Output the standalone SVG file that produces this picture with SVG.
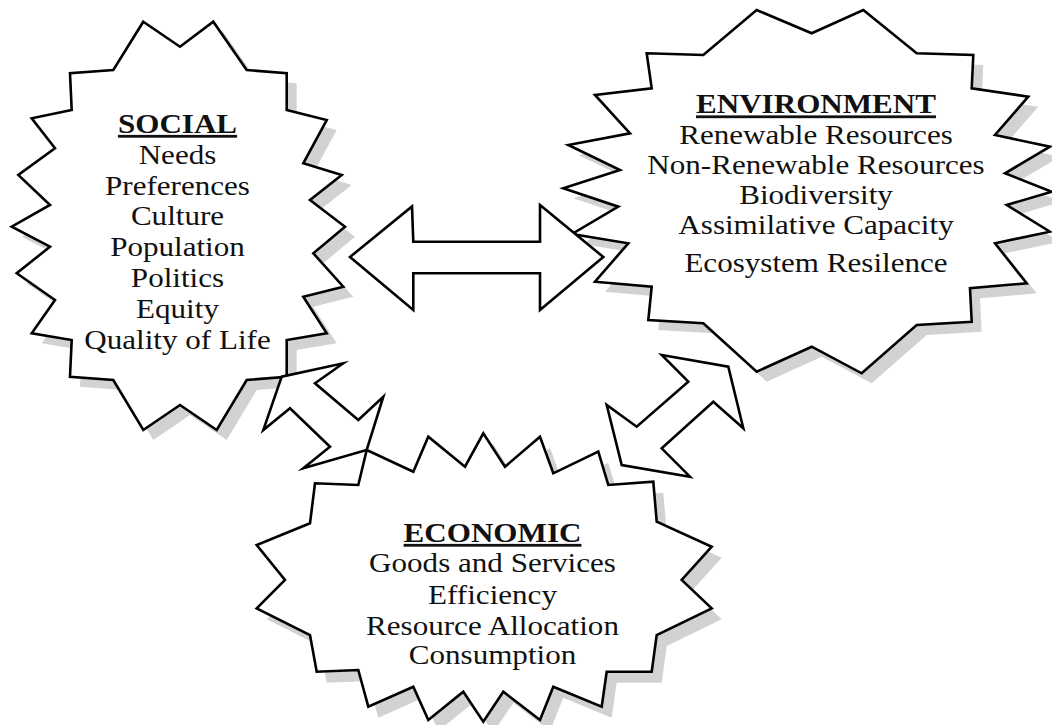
<svg xmlns="http://www.w3.org/2000/svg" xmlns:xlink="http://www.w3.org/1999/xlink" width="1052" height="725" viewBox="0 0 1052 725">
<style>
.shape{fill:#fff;stroke:#000;stroke-width:2.6;stroke-linejoin:miter;stroke-miterlimit:10}
.shadow{fill:#d2d2d2;stroke:none}
.t{font-family:"Liberation Serif","Times New Roman",serif;font-size:28px;fill:#111;text-anchor:middle}
.h{font-weight:bold;text-decoration:underline}
</style>
<defs>
<polygon id="socialShape" points="143.3,21.7 180,46.7 213.3,21.7 246.7,70 286.7,73.3 286.7,110 326.7,120 303.3,163.3 341.7,175 310,200 345,226.7 313.3,253.3 343.3,286.7 303.3,296.7 326.7,333.3 286.7,340 286.7,376.7 246.7,380 216.7,430 180,405 143.3,430 113.3,380 70,376.7 71.7,340 31.7,333.3 55,300 16.7,273.3 50,246.7 11.7,226.7 50,205 18.3,175 55,148.3 31.7,118.3 71.7,110 70,73.3 113.3,70"/>
<polygon id="envShape" points="646.7,53.3 703.3,55 756.7,10 811.7,33.3 863.3,10 916.7,53.3 973.3,55 971.7,88.3 1028.3,96.7 995,135 1050,146.7 1005,173.3 1051.7,191.7 1006.7,205 1050,231.7 995,243.3 1026.7,283.3 970,288.3 971.7,321.7 916.7,325 861.7,373.3 811.7,346.7 756.7,371.7 703.3,323.3 648.3,320 651.7,286.7 595,281.7 628.3,243.3 572,234 618.3,206.7 563.3,188.3 620,170 568.3,145 630,133.3 595,95 651.7,88.3"/>
<polygon id="econShape" points="366.7,450 413.3,471.7 428.3,436.7 465,466.7 483.3,433.3 505,466.7 540,436.7 553.3,473.3 598.3,451.7 608.3,485 653.3,481.7 656.7,521.7 711.7,546.7 681.7,580 711.7,608.3 656.7,635 651.7,671.7 606.7,671.7 601.7,706.7 553.3,686.7 540,720 503.3,691.7 483.3,721.7 463.3,691.7 428.3,720 413.3,686.7 368.3,706.7 358.3,670 316.7,671.7 310,635 256.7,608.3 285,580 256.7,545 310,523.3 315,483.3 358.3,485"/>
</defs>

<g id="social">
<use xlink:href="#socialShape" href="#socialShape" class="shadow" transform="translate(10 10)"/>
<use xlink:href="#socialShape" href="#socialShape" class="shape"/>
<g transform="translate(177.5 0) scale(1.11 1)">
<text class="t h" x="0" y="133">SOCIAL</text>
<text class="t" x="0" y="164">Needs</text>
<text class="t" x="0" y="195">Preferences</text>
<text class="t" x="0" y="225.5">Culture</text>
<text class="t" x="0" y="256.5">Population</text>
<text class="t" x="0" y="287">Politics</text>
<text class="t" x="0" y="318">Equity</text>
<text class="t" x="0" y="349">Quality of Life</text>
</g>
</g>

<g id="environment">
<use xlink:href="#envShape" href="#envShape" class="shadow" transform="translate(10 10)"/>
<use xlink:href="#envShape" href="#envShape" class="shape"/>
<g transform="translate(816 0) scale(1.11 1)">
<text class="t h" x="0" y="113.5">ENVIRONMENT</text>
<text class="t" x="0" y="144.5">Renewable Resources</text>
<text class="t" x="0" y="174">Non-Renewable Resources</text>
<text class="t" x="0" y="204">Biodiversity</text>
<text class="t" x="0" y="234.3">Assimilative Capacity</text>
<text class="t" x="0" y="272.5">Ecosystem Resilence</text>
</g>
</g>

<g id="economic">
<use xlink:href="#econShape" href="#econShape" class="shadow" transform="translate(10 11)"/>
<use xlink:href="#econShape" href="#econShape" class="shape"/>
<g transform="translate(492.5 0) scale(1.11 1)">
<text class="t h" x="0" y="542">ECONOMIC</text>
<text class="t" x="0" y="572.3">Goods and Services</text>
<text class="t" x="0" y="604">Efficiency</text>
<text class="t" x="0" y="635">Resource Allocation</text>
<text class="t" x="0" y="664">Consumption</text>
</g>
</g>

<g id="connectors">
<polygon class="shape" points="350,257 412,206.5 413.3,241.7 540,241.7 540,205 603.3,257 540,310 540,273.3 413.3,273.3 413.3,310"/>
<polygon class="shape" points="343.3,363.3 315,383.3 358.3,420 383.3,396.7 366.7,450 303.3,468.3 330,446.7 290,408.3 263.3,430 281.7,376.7"/>
<polygon class="shape" points="661.7,355 728.3,366.7 743.3,428.3 713.3,401.7 661.7,448.3 690,476.7 621.7,465 606.7,405 636.7,426.7 688.3,381.7"/>
</g>
</svg>
